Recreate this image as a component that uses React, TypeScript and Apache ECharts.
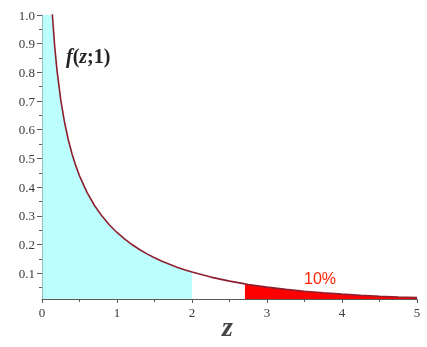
import React, { useEffect, useRef } from "react";
import * as echarts from "echarts";

// z values and f(z;1) values
const zValues = [0.005, 0.02, 0.03, 0.05, 0.1, 0.14, 0.17, 0.2, 0.25, 0.3, 0.35, 0.4, 0.45, 0.5, 0.6, 0.7, 0.8, 0.9, 1.0, 1.1, 1.2, 1.3, 1.4, 1.5, 1.6, 1.7, 1.8, 1.9, 2.0, 2.25, 2.5, 2.706, 2.75, 3.0, 3.25, 3.5, 3.75, 4.0, 4.25, 4.5, 4.75, 5.0];
const fValues = [5.627, 2.793, 2.269, 1.74, 1.2, 0.9941, 0.8887, 0.8072, 0.7041, 0.6269, 0.5661, 0.5164, 0.4749, 0.4394, 0.3815, 0.336, 0.299, 0.2681, 0.242, 0.2195, 0.1999, 0.1827, 0.1674, 0.1539, 0.1417, 0.1308, 0.1209, 0.1119, 0.1038, 0.08635, 0.07229, 0.06269, 0.06083, 0.05139, 0.04358, 0.03706, 0.03159, 0.027, 0.02311, 0.01982, 0.01703, 0.01465];
const shadedEnd = 2.0;
const tailStart = 2.706;
const yMajorTicks = [0.1, 0.2, 0.3, 0.4, 0.5, 0.6, 0.7, 0.8, 0.9, 1.0];
const yMinorTicks = [0.05, 0.15, 0.25, 0.35, 0.45, 0.55, 0.65, 0.75, 0.85, 0.95];
const tailLabel = "10%";

export default function App() {
  const ref = useRef<HTMLDivElement>(null);
  useEffect(() => {
    if (!ref.current) return;
    const chart = echarts.init(ref.current, null, { renderer: "svg" });
    const all = zValues.map((z, i) => [z, fValues[i]]);
    const left = all.filter((p) => p[0] <= shadedEnd);
    const tail = all.filter((p) => p[0] >= tailStart);
    const axisColor = "#5a5a5a";
    const labelStyle = { color: "#3a3a3a", fontFamily: "Liberation Serif", fontSize: 13 };
    chart.setOption({
      animation: false,
      grid: { left: 42, right: 10, top: 15, bottom: 48 },
      xAxis: {
        type: "value",
        min: 0,
        max: 5,
        interval: 1,
        axisLine: { lineStyle: { color: axisColor, width: 1 } },
        axisTick: { show: true, length: 4, lineStyle: { color: axisColor } },
        minorTick: { show: true, splitNumber: 2, length: 3, lineStyle: { color: axisColor } },
        splitLine: { show: false },
        axisLabel: { ...labelStyle, margin: 7 },
      },
      yAxis: [
        {
          type: "value",
          min: 0.01,
          max: 1.0,
          axisLine: { show: true, onZero: false, lineStyle: { color: axisColor, width: 1 } },
          axisTick: { show: true, length: 5, customValues: yMajorTicks, lineStyle: { color: axisColor } },
          axisLabel: {
            ...labelStyle,
            customValues: yMajorTicks,
            margin: 7,
            formatter: (v: number) => v.toFixed(1),
          },
          splitLine: { show: false },
        },
        {
          type: "value",
          min: 0.01,
          max: 1.0,
          position: "left",
          axisLine: { show: false },
          axisTick: { show: true, length: 3, customValues: yMinorTicks, lineStyle: { color: axisColor } },
          axisLabel: { show: false, customValues: yMinorTicks },
          splitLine: { show: false },
        },
      ],
      series: [
        {
          type: "line",
          data: left,
          showSymbol: false,
          lineStyle: { width: 0 },
          areaStyle: { color: "#bcfdfd", opacity: 1, origin: "start" },
          clip: true,
          silent: true,
        },
        {
          type: "line",
          data: tail,
          showSymbol: false,
          lineStyle: { width: 0 },
          areaStyle: { color: "#ff0000", opacity: 1, origin: "start" },
          clip: true,
          silent: true,
        },
        {
          type: "line",
          data: all,
          showSymbol: false,
          lineStyle: { width: 1.6, color: "#8e1f2e" },
          clip: true,
          silent: true,
        },
      ],
      graphic: [
        {
          type: "text",
          left: 66,
          top: 46,
          style: {
            text: "{i|f}{n|(}{i|z}{n|;1)}",
            rich: {
              i: { fontFamily: "Liberation Serif", fontStyle: "italic", fontWeight: "bold", fontSize: 20, fill: "#222" },
              n: { fontFamily: "Liberation Serif", fontWeight: "bold", fontSize: 20, fill: "#222" },
            },
          },
        },
        {
          type: "text",
          left: 222,
          top: 312,
          style: {
            text: "z",
            fontFamily: "Liberation Serif",
            fontStyle: "italic",
            fontWeight: "bold",
            fontSize: 28,
            fill: "#444",
          },
        },
        {
          type: "text",
          left: 304,
          top: 270,
          style: {
            text: tailLabel,
            fontFamily: "Liberation Sans",
            fontSize: 16,
            fill: "#ff2200",
          },
        },
      ],
    });
    return () => chart.dispose();
  }, []);
  return <div ref={ref} style={{ position: "fixed", left: 0, top: 0, width: 427, height: 347 }} />;
}
